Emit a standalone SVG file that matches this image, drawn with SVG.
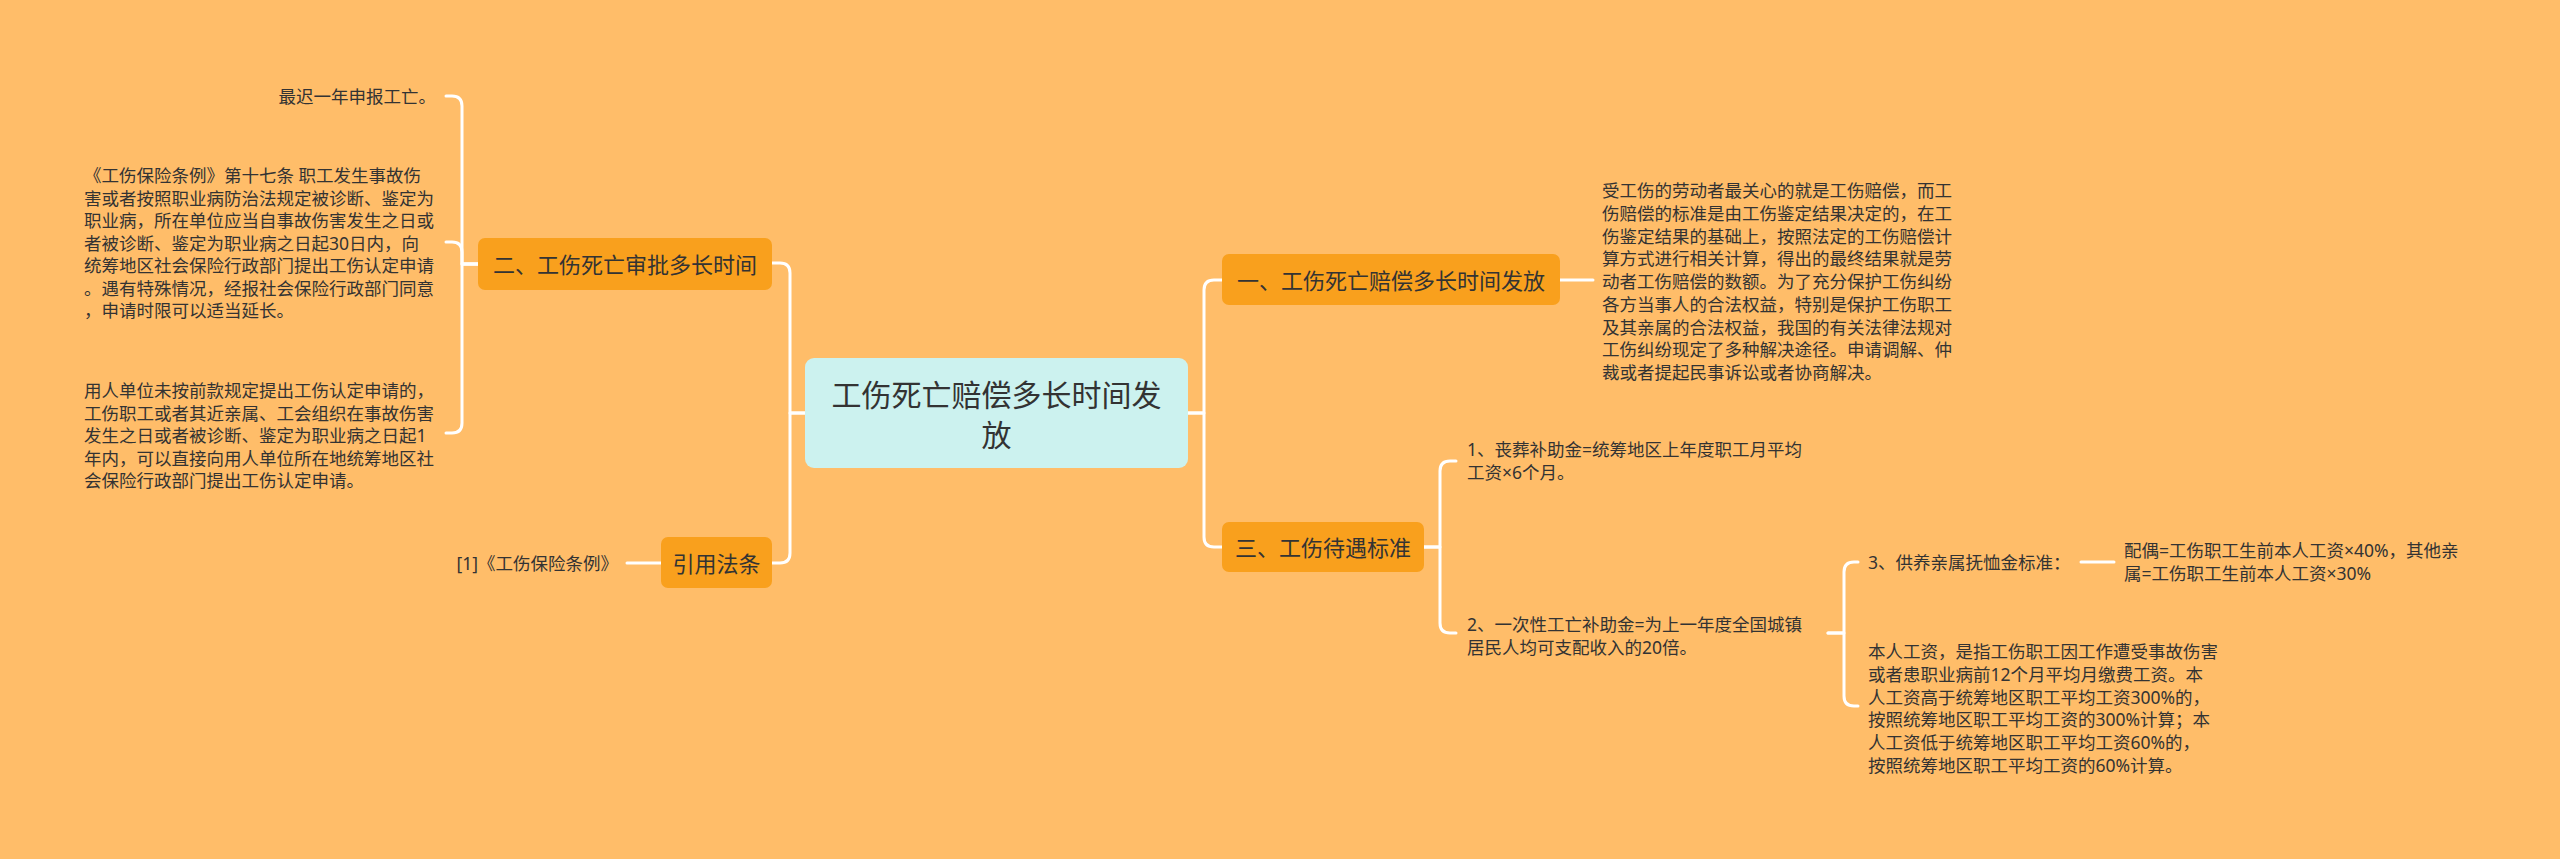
<svg xmlns="http://www.w3.org/2000/svg" width="2560" height="859" viewBox="0 0 2560 859">
<style>
.bg{fill:#FFBD69}
.l1{fill:#F9A01D}
.root{fill:#CCF2EF}
.conn{fill:none;stroke:#FFFFFF;stroke-width:3;stroke-linecap:round;stroke-linejoin:round}
text{font-family:"Noto Sans","Noto Sans CJK SC",sans-serif;fill:#333333;dominant-baseline:central}
.t0{font-size:30px}
.t1{font-size:22px}
.t2{font-size:17.5px}
</style>
<rect class="bg" x="0" y="0" width="2560" height="859"/>
<g id="connectors">
<path class="conn" d="M805 413 H790 V273 Q790 263 780 263 H772"/>
<path class="conn" d="M805 413 H790 V553 Q790 563 780 563 H772"/>
<path class="conn" d="M1188 413 H1204 V290 Q1204 280 1214 280 H1222"/>
<path class="conn" d="M1188 413 H1204 V537 Q1204 547 1214 547 H1222"/>
<path class="conn" d="M479 264 H462 V106 Q462 96 452 96 H446"/>
<path class="conn" d="M479 264 H462 V252 Q462 242 452 242 H446"/>
<path class="conn" d="M479 264 H462 V423 Q462 433 452 433 H446"/>
<path class="conn" d="M661 563 H627"/>
<path class="conn" d="M1560 280 H1593"/>
<path class="conn" d="M1424 547 H1440 V471 Q1440 461 1450 461 H1456"/>
<path class="conn" d="M1424 547 H1440 V623 Q1440 633 1450 633 H1456"/>
<path class="conn" d="M1828 633 H1844 V572 Q1844 562 1854 562 H1858"/>
<path class="conn" d="M1828 633 H1844 V696 Q1844 706 1854 706 H1858"/>
<path class="conn" d="M2081 562 H2114"/>
</g>
<g id="root">
<rect class="root" x="805" y="358" width="383" height="110" rx="9"/>
<text class="t0" x="996.5" y="394" text-anchor="middle">工伤死亡赔偿多长时间发</text>
<text class="t0" x="996.5" y="434" text-anchor="middle">放</text>
</g>
<g id="n-er">
<rect class="l1" x="478" y="238" width="294" height="52" rx="7"/>
<text class="t1" x="625" y="264" text-anchor="middle">二、工伤死亡审批多长时间</text>
</g>
<g id="n-yinyong">
<rect class="l1" x="661" y="537" width="111" height="51" rx="7"/>
<text class="t1" x="716.5" y="562.5" text-anchor="middle">引用法条</text>
</g>
<g id="n-yi">
<rect class="l1" x="1222" y="254" width="338" height="51" rx="7"/>
<text class="t1" x="1391" y="279.5" text-anchor="middle">一、工伤死亡赔偿多长时间发放</text>
</g>
<g id="n-san">
<rect class="l1" x="1222" y="522" width="202" height="50" rx="7"/>
<text class="t1" x="1323" y="547" text-anchor="middle">三、工伤待遇标准</text>
</g>
<g id="leaf-zuichi">
<text class="t2" x="436" y="96" text-anchor="end">最迟一年申报工亡。</text>
</g>
<g id="leaf-tiaoli17">
<text class="t2" x="84" y="175">《工伤保险条例》第十七条 职工发生事故伤</text>
<text class="t2" x="84" y="197.5">害或者按照职业病防治法规定被诊断、鉴定为</text>
<text class="t2" x="84" y="220">职业病，所在单位应当自事故伤害发生之日或</text>
<text class="t2" x="84" y="242.5">者被诊断、鉴定为职业病之日起30日内，向</text>
<text class="t2" x="84" y="265">统筹地区社会保险行政部门提出工伤认定申请</text>
<text class="t2" x="84" y="287.5">。遇有特殊情况，经报社会保险行政部门同意</text>
<text class="t2" x="84" y="310">，申请时限可以适当延长。</text>
</g>
<g id="leaf-yongren">
<text class="t2" x="84" y="390">用人单位未按前款规定提出工伤认定申请的，</text>
<text class="t2" x="84" y="412.5">工伤职工或者其近亲属、工会组织在事故伤害</text>
<text class="t2" x="84" y="435">发生之日或者被诊断、鉴定为职业病之日起1</text>
<text class="t2" x="84" y="457.5">年内，可以直接向用人单位所在地统筹地区社</text>
<text class="t2" x="84" y="480">会保险行政部门提出工伤认定申请。</text>
</g>
<g id="leaf-ref">
<text class="t2" x="618" y="563" text-anchor="end">[1]《工伤保险条例》</text>
</g>
<g id="leaf-shou">
<text class="t2" x="1602" y="190">受工伤的劳动者最关心的就是工伤赔偿，而工</text>
<text class="t2" x="1602" y="212.75">伤赔偿的标准是由工伤鉴定结果决定的，在工</text>
<text class="t2" x="1602" y="235.5">伤鉴定结果的基础上，按照法定的工伤赔偿计</text>
<text class="t2" x="1602" y="258.25">算方式进行相关计算，得出的最终结果就是劳</text>
<text class="t2" x="1602" y="281">动者工伤赔偿的数额。为了充分保护工伤纠纷</text>
<text class="t2" x="1602" y="303.75">各方当事人的合法权益，特别是保护工伤职工</text>
<text class="t2" x="1602" y="326.5">及其亲属的合法权益，我国的有关法律法规对</text>
<text class="t2" x="1602" y="349.25">工伤纠纷现定了多种解决途径。申请调解、仲</text>
<text class="t2" x="1602" y="372">裁或者提起民事诉讼或者协商解决。</text>
</g>
<g id="leaf-1">
<text class="t2" x="1467" y="449">1、丧葬补助金=统筹地区上年度职工月平均</text>
<text class="t2" x="1467" y="472">工资×6个月。</text>
</g>
<g id="leaf-2">
<text class="t2" x="1467" y="624">2、一次性工亡补助金=为上一年度全国城镇</text>
<text class="t2" x="1467" y="647">居民人均可支配收入的20倍。</text>
</g>
<g id="leaf-3">
<text class="t2" x="1868" y="562">3、供养亲属抚恤金标准：</text>
</g>
<g id="leaf-peiou">
<text class="t2" x="2124" y="550">配偶=工伤职工生前本人工资×40%，其他亲</text>
<text class="t2" x="2124" y="573">属=工伤职工生前本人工资×30%</text>
</g>
<g id="leaf-benren">
<text class="t2" x="1868" y="651">本人工资，是指工伤职工因工作遭受事故伤害</text>
<text class="t2" x="1868" y="673.8">或者患职业病前12个月平均月缴费工资。本</text>
<text class="t2" x="1868" y="696.6">人工资高于统筹地区职工平均工资300%的，</text>
<text class="t2" x="1868" y="719.4">按照统筹地区职工平均工资的300%计算；本</text>
<text class="t2" x="1868" y="742.2">人工资低于统筹地区职工平均工资60%的，</text>
<text class="t2" x="1868" y="765">按照统筹地区职工平均工资的60%计算。</text>
</g>
</svg>
